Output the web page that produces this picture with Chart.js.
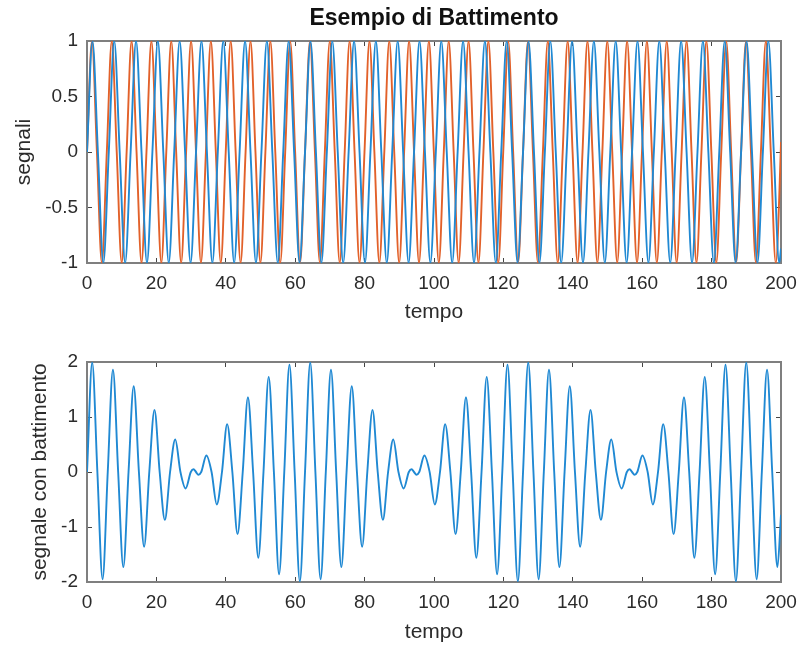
<!DOCTYPE html>
<html>
<head>
<meta charset="utf-8">
<script src="https://cdn.jsdelivr.net/npm/chart.js@4.4.1/dist/chart.umd.min.js"></script>
<style>
  html, body { margin: 0; padding: 0; background: #fff; }
  #wrap { position: relative; width: 801px; height: 647px; }
  .panel { position: absolute; left: 0; width: 801px; }
  #top { top: 0; height: 330px; }
  #bottom { top: 330px; height: 317px; }
</style>
</head>
<body>
<div id="wrap">
  <div class="panel" id="top"><canvas id="c1" width="801" height="330"></canvas></div>
  <div class="panel" id="bottom"><canvas id="c2" width="801" height="317"></canvas></div>
</div>
<script>
// tick labels
const xTicks = [0, 20, 40, 60, 80, 100, 120, 140, 160, 180, 200];
const topYTicks = [-1, -0.5, 0, 0.5, 1];
const bottomYTicks = [-2, -1, 0, 1, 2];

// segnale 1 (blu): massimi, minimi e zeri
const blueT = [
  0, 1.57, 3.14, 4.71, 6.28, 7.85, 9.42, 11.00, 12.57, 14.14, 15.71, 17.28, 18.85, 20.42, 21.99, 23.56,
  25.13, 26.70, 28.27, 29.85, 31.42, 32.99, 34.56, 36.13, 37.70, 39.27, 40.84, 42.41, 43.98, 45.55, 47.12, 48.69,
  50.27, 51.84, 53.41, 54.98, 56.55, 58.12, 59.69, 61.26, 62.83, 64.40, 65.97, 67.54, 69.12, 70.69, 72.26, 73.83,
  75.40, 76.97, 78.54, 80.11, 81.68, 83.25, 84.82, 86.39, 87.96, 89.54, 91.11, 92.68, 94.25, 95.82, 97.39, 98.96,
  100.53, 102.10, 103.67, 105.24, 106.81, 108.38, 109.96, 111.53, 113.10, 114.67, 116.24, 117.81, 119.38, 120.95, 122.52, 124.09,
  125.66, 127.23, 128.81, 130.38, 131.95, 133.52, 135.09, 136.66, 138.23, 139.80, 141.37, 142.94, 144.51, 146.08, 147.65, 149.23,
  150.80, 152.37, 153.94, 155.51, 157.08, 158.65, 160.22, 161.79, 163.36, 164.93, 166.50, 168.08, 169.65, 171.22, 172.79, 174.36,
  175.93, 177.50, 179.07, 180.64, 182.21, 183.78, 185.35, 186.92, 188.50, 190.07, 191.64, 193.21, 194.78, 196.35, 197.92, 199.49,
  200
];
const blueY = [
  0, 1, 0, -1, 0, 1, 0, -1, 0, 1, 0, -1, 0, 1, 0, -1,
  0, 1, 0, -1, 0, 1, 0, -1, 0, 1, 0, -1, 0, 1, 0, -1,
  0, 1, 0, -1, 0, 1, 0, -1, 0, 1, 0, -1, 0, 1, 0, -1,
  0, 1, 0, -1, 0, 1, 0, -1, 0, 1, 0, -1, 0, 1, 0, -1,
  0, 1, 0, -1, 0, 1, 0, -1, 0, 1, 0, -1, 0, 1, 0, -1,
  0, 1, 0, -1, 0, 1, 0, -1, 0, 1, 0, -1, 0, 1, 0, -1,
  0, 1, 0, -1, 0, 1, 0, -1, 0, 1, 0, -1, 0, 1, 0, -1,
  0, 1, 0, -1, 0, 1, 0, -1, 0, 1, 0, -1, 0, 1, 0, -1,
  -0.87
];

// segnale 2 (arancione)
const orangeT = [
  0, 1.43, 2.86, 4.28, 5.71, 7.14, 8.57, 10.00, 11.42, 12.85, 14.28, 15.71, 17.14, 18.56, 19.99, 21.42,
  22.85, 24.28, 25.70, 27.13, 28.56, 29.99, 31.42, 32.84, 34.27, 35.70, 37.13, 38.56, 39.98, 41.41, 42.84, 44.27,
  45.70, 47.12, 48.55, 49.98, 51.41, 52.84, 54.26, 55.69, 57.12, 58.55, 59.98, 61.40, 62.83, 64.26, 65.69, 67.12,
  68.54, 69.97, 71.40, 72.83, 74.26, 75.68, 77.11, 78.54, 79.97, 81.40, 82.82, 84.25, 85.68, 87.11, 88.54, 89.96,
  91.39, 92.82, 94.25, 95.68, 97.10, 98.53, 99.96, 101.39, 102.82, 104.24, 105.67, 107.10, 108.53, 109.96, 111.38, 112.81,
  114.24, 115.67, 117.10, 118.52, 119.95, 121.38, 122.81, 124.24, 125.66, 127.09, 128.52, 129.95, 131.38, 132.80, 134.23, 135.66,
  137.09, 138.52, 139.94, 141.37, 142.80, 144.23, 145.66, 147.08, 148.51, 149.94, 151.37, 152.80, 154.22, 155.65, 157.08, 158.51,
  159.94, 161.36, 162.79, 164.22, 165.65, 167.08, 168.50, 169.93, 171.36, 172.79, 174.22, 175.64, 177.07, 178.50, 179.93, 181.36,
  182.78, 184.21, 185.64, 187.07, 188.50, 189.92, 191.35, 192.78, 194.21, 195.64, 197.06, 198.49, 199.92,
  200
];
const orangeY = [
  0, 1, 0, -1, 0, 1, 0, -1, 0, 1, 0, -1, 0, 1, 0, -1,
  0, 1, 0, -1, 0, 1, 0, -1, 0, 1, 0, -1, 0, 1, 0, -1,
  0, 1, 0, -1, 0, 1, 0, -1, 0, 1, 0, -1, 0, 1, 0, -1,
  0, 1, 0, -1, 0, 1, 0, -1, 0, 1, 0, -1, 0, 1, 0, -1,
  0, 1, 0, -1, 0, 1, 0, -1, 0, 1, 0, -1, 0, 1, 0, -1,
  0, 1, 0, -1, 0, 1, 0, -1, 0, 1, 0, -1, 0, 1, 0, -1,
  0, 1, 0, -1, 0, 1, 0, -1, 0, 1, 0, -1, 0, 1, 0, -1,
  0, 1, 0, -1, 0, 1, 0, -1, 0, 1, 0, -1, 0, 1, 0, -1,
  0, 1, 0, -1, 0, 1, 0, -1, 0, 1, 0, -1, 0,
  0.09
];

// segnale con battimento
const beatT = [
  0, 1.50, 2.99, 4.49, 5.98, 7.48, 8.98, 10.47, 11.97, 13.46, 14.96, 16.46, 17.95, 19.45, 20.94, 22.44,
  23.94, 25.43, 26.93, 28.42, 29.92, 30.70, 31.42, 32.10,
  32.91, 34.41, 35.90, 37.40, 38.90, 40.39, 41.89, 43.38, 44.88, 46.38, 47.87, 49.37, 50.86, 52.36, 53.86, 55.35,
  56.85, 58.34, 59.84, 61.34, 62.83, 64.33, 65.82, 67.32, 68.82, 70.31, 71.81, 73.30, 74.80, 76.30, 77.79, 79.29,
  80.78, 82.28, 83.78, 85.27, 86.77, 88.26, 89.76, 91.26, 92.75, 93.55, 94.25, 94.95,
  95.74, 97.24, 98.74, 100.23, 101.73, 103.22, 104.72, 106.22, 107.71, 109.21, 110.70, 112.20, 113.70, 115.19, 116.69, 118.18,
  119.68, 121.18, 122.67, 124.17, 125.66, 127.16, 128.66, 130.15, 131.65, 133.14, 134.64, 136.14, 137.63, 139.13, 140.62, 142.12,
  143.62, 145.11, 146.61, 148.10, 149.60, 151.10, 152.59, 154.09, 155.58, 156.38, 157.08, 157.78,
  158.58, 160.07, 161.57, 163.06, 164.56, 166.06, 167.55, 169.05, 170.54, 172.04, 173.54, 175.03, 176.53, 178.02, 179.52, 181.02,
  182.51, 184.01, 185.50, 187.00, 188.50, 189.99, 191.49, 192.98, 194.48, 195.98, 197.47, 198.97, 200
];
const beatY = [
  0, 1.99, 0, -1.95, 0, 1.86, 0, -1.73, 0, 1.56, 0, -1.36, 0, 1.13, 0, -0.87,
  0, 0.59, 0, -0.30, 0, 0.05, 0, -0.05,
  0, 0.30, 0, -0.59, 0, 0.87, 0, -1.13, 0, 1.36, 0, -1.56, 0, 1.73, 0, -1.86,
  0, 1.95, 0, -1.99, 0, 1.99, 0, -1.95, 0, 1.86, 0, -1.73, 0, 1.56, 0, -1.36,
  0, 1.13, 0, -0.87, 0, 0.59, 0, -0.30, 0, 0.05, 0, -0.05,
  0, 0.30, 0, -0.59, 0, 0.87, 0, -1.13, 0, 1.36, 0, -1.56, 0, 1.73, 0, -1.86,
  0, 1.95, 0, -1.99, 0, 1.99, 0, -1.95, 0, 1.86, 0, -1.73, 0, 1.56, 0, -1.36,
  0, 1.13, 0, -0.87, 0, 0.59, 0, -0.30, 0, 0.05, 0, -0.05,
  0, 0.30, 0, -0.59, 0, 0.87, 0, -1.13, 0, 1.36, 0, -1.56, 0, 1.73, 0, -1.86,
  0, 1.95, 0, -1.99, 0, 1.99, 0, -1.95, 0, 1.86, 0, -1.73, -0.78
];

const FONT = "'Liberation Sans', Arial, sans-serif";
const TEXT = '#2b2b2b';
const AXIS = '#7f7f7f';
const BLUE = '#2089d3';
const ORANGE = '#e2612a';

function toPoints(xs, ys) {
  return xs.map((x, i) => ({ x, y: ys[i] }));
}

function fixedTicks(values) {
  return scale => { scale.ticks = values.map(v => ({ value: v })); };
}

function lineSet(xs, ys, color) {
  return {
    data: toPoints(xs, ys),
    borderColor: color,
    borderWidth: 1.9,
    pointRadius: 0,
    cubicInterpolationMode: 'monotone',
    fill: false,
  };
}

// dimensione fissa dell'asse, senza margini extra per le etichette
function fixSize(key, size) {
  return s => {
    s[key] = size;
    s.paddingLeft = 0;
    s.paddingRight = 0;
    s.paddingTop = 0;
    s.paddingBottom = 0;
  };
}

/**
 * assi in stile MATLAB: box chiuso, tacche verso l'interno
 */
function axes(o) {
  const grid = () => ({ drawOnChartArea: false, drawTicks: true, tickLength: -5, color: '#444', lineWidth: 1 });
  const border = () => ({ display: true, color: AXIS, width: 2 });
  const tickFont = { family: FONT, size: 19 };
  const titleFont = { family: FONT, size: 21 };
  return {
    x: {
      type: 'linear', position: 'bottom', min: 0, max: 200,
      afterBuildTicks: fixedTicks(xTicks),
      afterFit: fixSize('height', o.xHeight),
      grid: grid(), border: border(),
      ticks: { font: tickFont, color: TEXT, padding: 14.5, maxRotation: 0, autoSkip: false, callback: v => String(v) },
      title: { display: true, text: 'tempo', font: titleFont, color: TEXT, padding: { top: 0, bottom: o.xTitlePad } },
    },
    x2: {
      type: 'linear', position: 'top', min: 0, max: 200,
      afterBuildTicks: fixedTicks(xTicks),
      afterFit: fixSize('height', 0),
      grid: grid(), border: border(),
      ticks: { display: false },
    },
    y: {
      type: 'linear', position: 'left', min: o.yMin, max: o.yMax,
      afterBuildTicks: fixedTicks(o.yTicks),
      afterFit: fixSize('width', 87),
      grid: grid(), border: border(),
      ticks: { font: tickFont, color: TEXT, padding: 14, autoSkip: false, callback: v => String(v) },
      title: { display: true, text: o.yLabel, font: titleFont, color: TEXT, padding: { top: o.yTitlePad, bottom: 0 } },
    },
    y2: {
      type: 'linear', position: 'right', min: o.yMin, max: o.yMax,
      afterBuildTicks: fixedTicks(o.yTicks),
      afterFit: fixSize('width', 0),
      grid: grid(), border: border(),
      ticks: { display: false },
    },
  };
}

new Chart(document.getElementById('c1'), {
  type: 'line',
  data: {
    datasets: [
      lineSet(blueT, blueY, BLUE),
      lineSet(orangeT, orangeY, ORANGE),
    ],
  },
  options: {
    responsive: false,
    animation: false,
    layout: { autoPadding: false, padding: { left: 0, right: 20, top: 0, bottom: 0 } },
    plugins: {
      legend: { display: false },
      tooltip: { enabled: false },
      title: {
        display: true,
        text: 'Esempio di Battimento',
        fullSize: false,
        color: '#111',
        font: { family: FONT, size: 23, weight: 'bold' },
        padding: { top: 4.5, bottom: 8.9 },
      },
    },
    scales: axes({ xHeight: 67, xTitlePad: 5.4, yMin: -1, yMax: 1, yTicks: topYTicks, yLabel: 'segnali', yTitlePad: 12 }),
  },
});

new Chart(document.getElementById('c2'), {
  type: 'line',
  data: {
    datasets: [lineSet(beatT, beatY, BLUE)],
  },
  options: {
    responsive: false,
    animation: false,
    layout: { autoPadding: false, padding: { left: 0, right: 20, top: 32, bottom: 0 } },
    plugins: {
      legend: { display: false },
      tooltip: { enabled: false },
    },
    scales: axes({ xHeight: 65, xTitlePad: 2.4, yMin: -2, yMax: 2, yTicks: bottomYTicks, yLabel: 'segnale con battimento', yTitlePad: 27.4 }),
  },
});
</script>
</body>
</html>
